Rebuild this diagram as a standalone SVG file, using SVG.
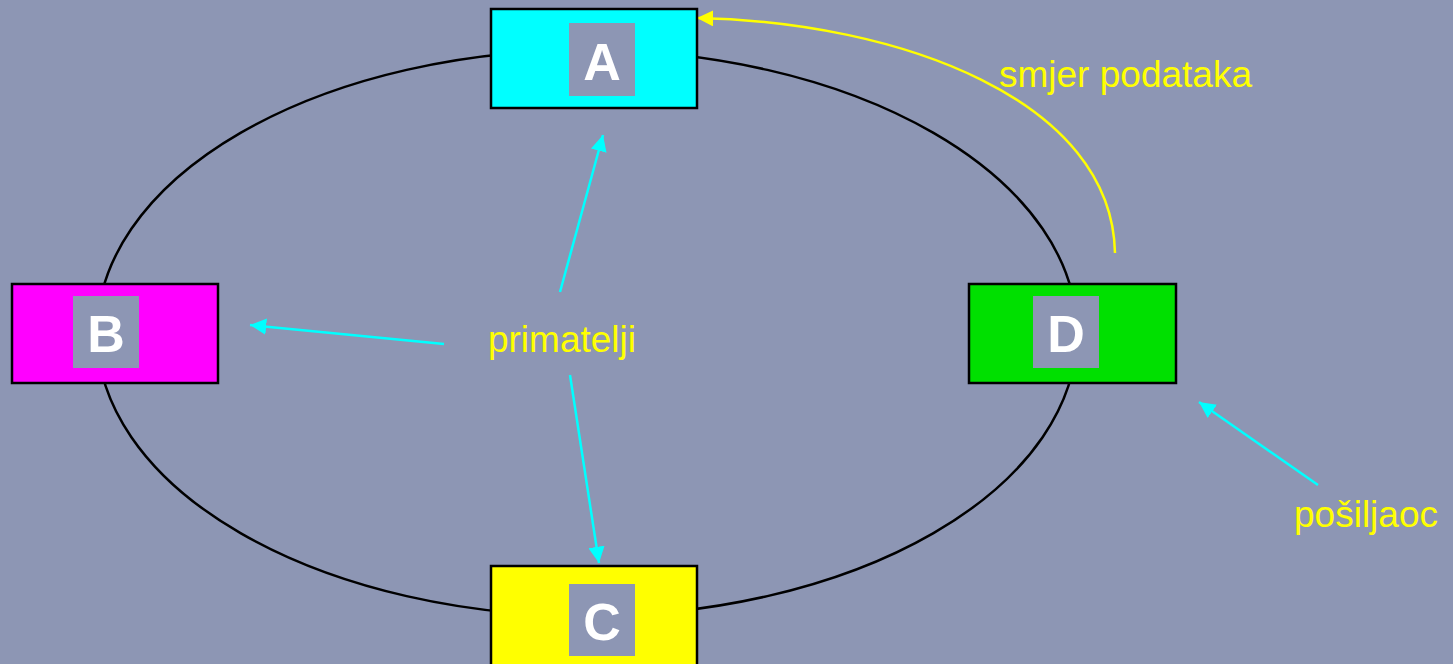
<svg xmlns="http://www.w3.org/2000/svg" width="1453" height="664" viewBox="0 0 1453 664">
<style>
.box{stroke:#000;stroke-width:2.5}
.inner{fill:#8d96b4}
.lbl{font-family:"Liberation Sans",Arial,sans-serif;font-weight:bold;font-size:52px;fill:#fff;text-anchor:middle}
.txt{font-family:"Liberation Sans",Arial,sans-serif;font-size:37px;fill:#ffff00}
.cy{stroke:#00ffff;stroke-width:2.5;fill:none;marker-end:url(#ac)}
</style>
<defs>
<marker id="ac" viewBox="0 0 10 10" refX="10" refY="5" markerWidth="6.5" markerHeight="6.5" markerUnits="strokeWidth" orient="auto"><path d="M0,0 L10,5 L0,10 z" fill="#00ffff"/></marker>
<marker id="ay" viewBox="0 0 10 10" refX="10" refY="5" markerWidth="6.5" markerHeight="6.5" markerUnits="strokeWidth" orient="auto"><path d="M0,0 L10,5 L0,10 z" fill="#ffff00"/></marker>
</defs>
<rect width="1453" height="664" fill="#8d96b4"/>
<ellipse cx="587" cy="333" rx="490" ry="283" fill="none" stroke="#000" stroke-width="2.5"/>
<g id="connectors">
<path class="cy" d="M560,292 L603,135"/>
<path class="cy" d="M444,344 L250,325"/>
<path class="cy" d="M570,375 L599,563"/>
<path class="cy" d="M1318,485 L1199,402"/>
<path d="M1115,253 C1112,100 900,22 697,18" stroke="#ffff00" stroke-width="2.5" fill="none" marker-end="url(#ay)"/>
</g>
<g id="A"><rect class="box" x="491" y="9" width="206" height="99" fill="#00ffff"/><rect class="inner" x="569" y="23" width="66" height="73"/><text class="lbl" x="602" y="80">A</text></g>
<g id="B"><rect class="box" x="12" y="284" width="206" height="99" fill="#ff00ff"/><rect class="inner" x="73" y="296" width="66" height="72"/><text class="lbl" x="106" y="352">B</text></g>
<g id="C"><rect class="box" x="491" y="566" width="206" height="110" fill="#ffff00"/><rect class="inner" x="569" y="584" width="66" height="72"/><text class="lbl" x="602" y="640">C</text></g>
<g id="D"><rect class="box" x="969" y="284" width="207" height="99" fill="#00e000"/><rect class="inner" x="1033" y="296" width="66" height="72"/><text class="lbl" x="1066" y="352">D</text></g>
<text class="txt" x="999" y="87">smjer podataka</text>
<text class="txt" x="562" y="352" text-anchor="middle">primatelji</text>
<text class="txt" x="1294" y="527">pošiljaoc</text>
</svg>
